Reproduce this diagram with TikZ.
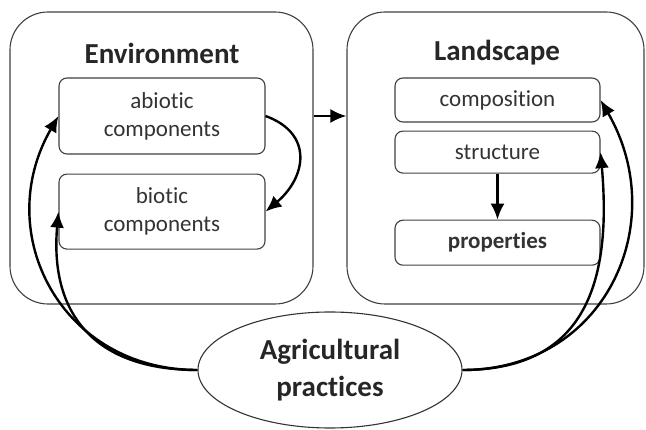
\documentclass[tikz,border=0pt]{standalone}
\usepackage{fontspec}
\setmainfont{Carlito}[Ligatures=NoCommon]
\usetikzlibrary{shapes.geometric, arrows.meta, positioning}

\begin{document}
\begin{tikzpicture}[x=1pt, y=-1pt, node distance=19pt]
\tikzset{
    bigbox/.style={rectangle, rounded corners=38pt, draw=black!75, line width=1.1pt, minimum width=303pt, minimum height=292pt},
    titlenode/.style={font=\fontsize{29}{35}\selectfont\bfseries, text=black!85},
    inbox/.style={rectangle, rounded corners=8pt, draw=black!75, line width=1.1pt, minimum width=206pt, align=center, text=black!80, font=\fontsize{23}{28}\selectfont},
    agrinode/.style={ellipse, draw=black!80, line width=1.1pt, minimum width=264pt, minimum height=116pt, inner sep=0pt, align=center, text=black!85, font=\fontsize{29}{37}\selectfont\bfseries},
    arr/.style={-{Latex[length=16pt, width=14pt]}, line width=2.4pt}
}
\useasboundingbox (0,0) rectangle (646,430);
\node[bigbox] (env) at (161.5,158) {};
\node[titlenode] (envt) at (162,53) {Environment};
\node[inbox, minimum height=76pt] (abio) at (162,116) {abiotic\\components};
\node[inbox, below=of abio, minimum height=75pt] (bio) {biotic\\components};
\node[bigbox, minimum width=297pt] (land) at (495.5,158) {};
\node[titlenode] (landt) at (497,53) {Landscape};
\node[inbox, minimum width=205pt, minimum height=44pt] (comp) at (497.5,100) {composition};
\node[inbox, minimum width=205pt, below=8pt of comp, minimum height=42pt] (struc) {structure};
\node[inbox, minimum width=205pt, below=46pt of struc, minimum height=45pt, font=\fontsize{23}{28}\selectfont\bfseries] (prop) {properties};
\node[agrinode] (agri) at (330,370) {Agricultural\\practices};
\draw[arr] (abio.east) to[out=-20, in=40, looseness=1.4] (bio.east);
\draw[arr] (env.east |- abio) -- (land.west |- abio);
\draw[arr] (struc) -- (prop);
\draw[arr] (agri.west) to[out=180, in=240, looseness=1.2] (abio.west);
\draw[arr] (agri.west) to[out=180, in=265, looseness=1.25] (bio.west);
\draw[arr] (agri.east) to[out=0, in=300, looseness=1.2] (comp.east);
\draw[arr] (agri.east) to[out=0, in=275, looseness=1.25] (struc.east);
\end{tikzpicture}
\end{document}
